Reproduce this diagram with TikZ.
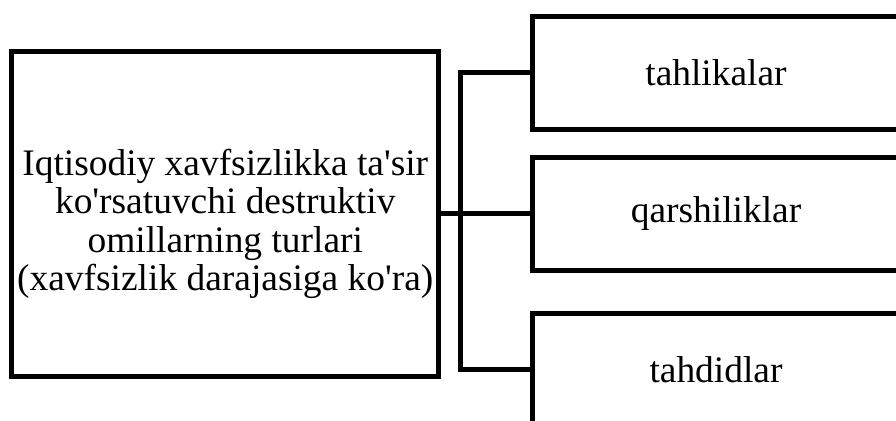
\documentclass[tikz,border=0pt]{standalone}
\usepackage{fontspec}
\setmainfont{Liberation Serif}
\usetikzlibrary{positioning}

\newcommand{\apos}{\textquotesingle}

\begin{document}
\begin{tikzpicture}[x=0.02cm, y=-0.02cm,
    boxtext/.style={inner sep=0pt, align=center,
        font=\fontsize{21.3}{21.8}\selectfont},
    box/.style={boxtext, draw=black, line width=0.1cm},
    mainbox/.style={box, minimum width=8.55cm, minimum height=6.49cm},
    sidebox/.style={box, minimum width=7.36cm, minimum height=2.25cm},
    link/.style={line width=0.1cm}
]
    % Definitions
    \useasboundingbox (0,0) rectangle (896,421);
    \def \busx{460}
    %%%
    %%% Main box
    %%%
    \node[mainbox] (main) at (225.25,214) {};
    \node[boxtext] (maintext) at ([yshift=-0.2cm]main.center) {Iqtisodiy xavfsizlikka ta\apos sir\\ko\apos rsatuvchi destruktiv\\omillarning turlari\\(xavfsizlik darajasiga ko\apos ra)};
    %%%
    %%% Types
    %%%
    \node[sidebox] (t1) at (716,73) {tahlikalar};
    \node[sidebox] (t2) at (716,214) {qarshiliklar};
    \node[sidebox] (t3) at (716,369.6) {tahdidlar};
    % Bus line
    \coordinate (bus) at (\busx,214);
    \draw[link] (main.east) -- (t2.west);
    \draw[link] (t1.west) -| (bus |- t3.west) -- (t3.west);
\end{tikzpicture}
\end{document}
